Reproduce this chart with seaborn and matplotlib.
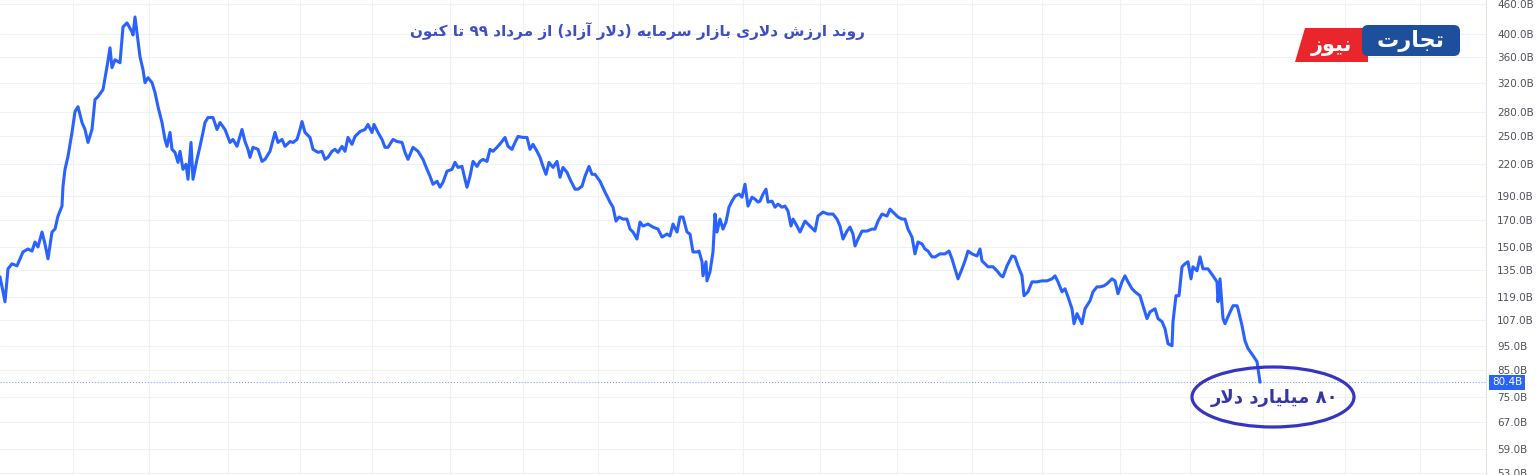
import re
import matplotlib
matplotlib.use('Agg')
import matplotlib.pyplot as plt
from matplotlib.patches import Ellipse, Polygon, FancyBboxPatch
from matplotlib.ticker import NullLocator
import seaborn as sns
import pandas as pd

# ارزش دلاری بازار سرمایه (میلیارد دلار) - شماره جلسه معاملاتی از مرداد ۹۹
sessions_a = [0, 5, 8, 12, 17, 20, 23, 28, 32, 35, 38, 42, 45, 48, 52, 55, 58, 62, 63, 65,
              68, 72, 75, 78, 82, 85, 88, 92, 95, 98, 103, 107, 110, 112, 115, 120, 123, 127, 132, 133,
              135, 137, 140, 143, 145, 148, 152, 155, 158, 162, 165, 167, 170, 172, 175, 178, 180, 183, 186, 188,
              191, 193, 197, 200, 203, 205, 208, 213, 217, 220, 225, 230, 233, 237, 242, 245, 248, 250]
cap_a = [130.7, 116.5, 135.6, 138.8, 137.5, 142.0, 146.6, 148.6, 147.2, 153.5, 150.0, 160.7, 152.1, 142.0, 160.7, 162.9, 173.0, 181.1, 198.5, 214.6,
         227.8, 254.4, 280.1, 286.5, 266.3, 257.9, 242.9, 257.9, 296.0, 300.1, 309.9, 344.5, 375.8, 343.0, 355.7, 350.8, 413.9, 421.6, 404.5, 398.9,
         433.3, 402.7, 360.7, 339.7, 320.0, 327.5, 320.0, 305.8, 286.5, 266.3, 246.3, 238.6, 254.4, 235.3, 232.1, 221.6, 233.2, 214.6, 219.6, 205.0,
         242.9, 205.0, 224.7, 238.6, 254.4, 266.3, 272.5, 272.5, 257.9, 266.3, 257.9, 242.9, 246.3, 238.6, 257.9, 244.0, 235.3, 226.8]

sessions_b = [253, 258, 262, 265, 270, 275, 278, 282, 285, 290, 293, 297, 300, 302, 305, 310, 313, 318, 322, 325,
              328, 332, 335, 338, 342, 345, 348, 352, 355, 360, 365, 368, 372, 374, 378, 382, 385, 388, 393, 397,
              402, 405, 408, 413, 418, 423, 427, 430, 433, 437, 440, 443, 447, 452, 455, 458, 462, 465, 467, 470,
              473, 477, 480, 483, 487, 490, 493, 497, 502, 505, 508]
cap_b = [237.5, 235.3, 222.6, 224.7, 233.2, 254.4, 242.9, 246.3, 238.6, 244.0, 242.9, 246.3, 257.9, 267.5, 254.4, 248.6, 235.3, 232.1, 233.2, 224.7,
         226.8, 233.2, 235.3, 232.1, 238.6, 233.2, 248.6, 240.8, 249.7, 255.5, 257.9, 263.9, 254.4, 263.9, 254.4, 246.3, 237.5, 237.5, 246.3, 244.0,
         242.9, 232.1, 224.7, 237.5, 233.2, 224.7, 214.6, 207.8, 200.3, 203.1, 197.6, 202.2, 212.7, 214.6, 221.6, 216.5, 217.5, 205.0, 197.6, 207.8,
         222.6, 217.5, 222.6, 224.7, 222.6, 235.3, 233.2, 237.5, 244.0, 248.6, 238.6]

sessions_c = [512, 515, 518, 523, 527, 530, 533, 537, 540, 543, 546, 549, 553, 557, 560, 563, 567, 570, 575, 578,
              582, 585, 589, 592, 595, 600, 605, 610, 613, 616, 619, 623, 627, 630, 633, 637, 640, 643, 648, 653,
              658, 662, 667, 670, 673, 677, 680, 683, 687, 690, 693, 697, 699, 702, 703, 706, 707, 710, 713, 715,
              717, 720, 723, 726, 729, 732, 735, 739, 742, 745, 748, 752, 755, 758]
cap_c = [235.3, 242.9, 249.7, 248.6, 248.6, 235.3, 240.8, 233.2, 226.8, 217.5, 209.7, 221.6, 216.5, 222.6, 206.9, 216.5, 211.7, 205.0, 195.8, 195.8,
         198.5, 207.8, 217.5, 209.7, 209.7, 203.1, 193.2, 184.5, 180.2, 169.0, 172.2, 170.6, 170.6, 162.9, 160.7, 155.6, 168.3, 165.2, 166.7, 164.4,
         162.9, 157.0, 159.2, 157.8, 166.7, 160.7, 172.2, 172.2, 160.7, 159.2, 146.6, 146.6, 147.2, 140.1, 131.3, 140.1, 128.3, 133.8, 146.6, 174.6,
         160.7, 170.6, 162.9, 168.3, 180.2, 185.3, 189.6, 191.4, 188.7, 200.3, 181.1, 188.7, 187.0, 184.5]

sessions_d = [760, 763, 766, 768, 772, 775, 778, 782, 785, 788, 791, 793, 797, 800, 805, 810, 815, 818, 823, 828,
              833, 837, 840, 843, 847, 850, 853, 855, 858, 862, 867, 872, 875, 878, 882, 887, 890, 893, 898, 902,
              905, 908, 912, 915, 918, 922, 925, 928, 932, 935, 940, 945, 949, 952, 955, 958, 962, 965, 968, 972,
              977, 980, 982, 985, 988, 993, 997, 1001, 1003]
cap_d = [185.3, 191.4, 195.8, 184.5, 185.3, 180.2, 182.8, 180.2, 181.1, 177.0, 165.2, 170.6, 165.2, 160.7, 169.0, 165.2, 161.4, 173.0, 176.2, 174.6,
         174.6, 170.6, 165.2, 155.6, 161.4, 164.4, 159.2, 150.7, 155.6, 161.4, 161.4, 162.9, 162.9, 169.0, 174.6, 173.0, 178.6, 176.2, 172.2, 170.6,
         170.6, 162.9, 157.0, 145.3, 153.5, 152.1, 148.6, 147.2, 143.3, 143.3, 145.3, 145.3, 147.2, 142.0, 135.6, 129.5, 135.6, 140.7, 147.2, 145.3,
         143.9, 148.6, 140.7, 138.8, 136.9, 136.9, 134.4, 131.3, 130.7]

sessions_e = [1007, 1012, 1015, 1018, 1022, 1024, 1028, 1032, 1037, 1042, 1047, 1052, 1055, 1058, 1062, 1065, 1068, 1072, 1074, 1077,
              1082, 1085, 1090, 1093, 1097, 1100, 1104, 1107, 1112, 1115, 1118, 1122, 1125, 1128, 1132, 1135, 1140, 1143, 1147, 1150,
              1155, 1158, 1162, 1165, 1168, 1172, 1173, 1176, 1179, 1182, 1185, 1188, 1191, 1193, 1197, 1200, 1203, 1208, 1213, 1217,
              1218, 1220, 1223, 1225, 1228, 1233, 1237, 1238, 1242, 1245, 1248, 1253, 1257, 1260]
cap_e = [137.5, 143.9, 143.3, 137.5, 131.3, 119.8, 122.0, 127.7, 127.7, 128.3, 128.3, 129.5, 131.3, 127.7, 122.0, 123.7, 119.2, 112.8, 105.3, 110.3,
         105.3, 112.8, 117.0, 122.0, 124.8, 124.8, 125.4, 126.6, 129.5, 128.3, 120.9, 127.7, 131.3, 127.7, 123.7, 122.0, 119.8, 114.4, 107.8, 111.2,
         112.8, 107.8, 106.3, 102.9, 96.0, 95.1, 106.3, 119.8, 119.8, 136.9, 138.8, 140.1, 129.5, 136.9, 134.4, 143.3, 135.6, 135.6, 131.3, 127.7,
         116.5, 129.5, 107.8, 105.3, 108.8, 114.4, 114.4, 112.8, 104.4, 97.3, 93.9, 90.9, 88.4, 80.4]

last_value = 80.4
month_starts = [73, 149, 228, 300, 372, 450, 523, 598, 673, 743, 820, 897, 972, 1042, 1120, 1190, 1263, 1345, 1420]
y_ticks = [53, 59, 67, 75, 85, 95, 107, 119, 135, 150, 170, 190, 220, 250, 280, 320, 360, 400, 460]

title = 'روند ارزش دلاری بازار سرمایه (دلار آزاد) از مرداد ۹۹ تا کنون'
note = '۸۰ میلیارد دلار'
brand_1 = 'تجارت'
brand_2 = 'نیوز'

# matplotlib does not shape Arabic script: map letters to presentation forms and reverse
FORMS = {
    'ا': ('\uFE8D', '\uFE8E', None, None),
    'آ': ('\uFE81', '\uFE82', None, None),
    'ب': ('\uFE8F', '\uFE90', '\uFE91', '\uFE92'),
    'ت': ('\uFE95', '\uFE96', '\uFE97', '\uFE98'),
    'ج': ('\uFE9D', '\uFE9E', '\uFE9F', '\uFEA0'),
    'د': ('\uFEA9', '\uFEAA', None, None),
    'ر': ('\uFEAD', '\uFEAE', None, None),
    'ز': ('\uFEAF', '\uFEB0', None, None),
    'س': ('\uFEB1', '\uFEB2', '\uFEB3', '\uFEB4'),
    'ش': ('\uFEB5', '\uFEB6', '\uFEB7', '\uFEB8'),
    'ل': ('\uFEDD', '\uFEDE', '\uFEDF', '\uFEE0'),
    'م': ('\uFEE1', '\uFEE2', '\uFEE3', '\uFEE4'),
    'ن': ('\uFEE5', '\uFEE6', '\uFEE7', '\uFEE8'),
    'ه': ('\uFEE9', '\uFEEA', '\uFEEB', '\uFEEC'),
    'و': ('\uFEED', '\uFEEE', None, None),
    'ی': ('\uFBFC', '\uFBFD', '\uFBFE', '\uFBFF'),
    'ک': ('\uFB8E', '\uFB8F', '\uFB90', '\uFB91'),
}
LAM_ALEF = {'ا': ('\uFEFB', '\uFEFC'), 'آ': ('\uFEF5', '\uFEF6')}


def dual(c):
    return c in FORMS and FORMS[c][2] is not None


def fa(text):
    out = []
    i = 0
    while i < len(text):
        c = text[i]
        if c not in FORMS:
            out.append(c)
            i += 1
            continue
        link_prev = i > 0 and dual(text[i - 1])
        nxt = text[i + 1] if i + 1 < len(text) else ''
        if c == 'ل' and nxt in LAM_ALEF:
            out.append(LAM_ALEF[nxt][1 if link_prev else 0])
            i += 2
            continue
        link_next = dual(c) and nxt in FORMS
        iso, fin, ini, med = FORMS[c]
        if link_prev and link_next:
            out.append(med)
        elif link_prev:
            out.append(fin)
        elif link_next:
            out.append(ini)
        else:
            out.append(iso)
        i += 1
    vis = ''.join(out)[::-1]
    vis = re.sub(r'[0-9۰-۹]+', lambda m: m.group(0)[::-1], vis)
    return vis.translate(str.maketrans('()', ')('))


df = pd.DataFrame({
    'session': sessions_a + sessions_b + sessions_c + sessions_d + sessions_e,
    'cap': cap_a + cap_b + cap_c + cap_d + cap_e,
})

sns.set_style('white')
plt.rcParams['font.family'] = ['DejaVu Sans']

W, H = 1536, 475
fig = plt.figure(figsize=(W / 100, H / 100), dpi=100)
ax = fig.add_axes([0, 0, 1486 / W, 1])


def fxy(x, y):
    # pixel position -> figure fraction
    return x / W, 1 - y / H


sns.lineplot(data=df, x='session', y='cap', ax=ax, color='#2962ff', linewidth=2.2,
             estimator=None, sort=False)

ax.set_yscale('log')
ax.set_ylim(52.4, 468.6)
ax.set_xlim(0, 1486)
ax.yaxis.set_minor_locator(NullLocator())
ax.set_yticks(y_ticks)
ax.set_yticklabels([f'{t:.1f}B' for t in y_ticks])
ax.yaxis.tick_right()
ax.tick_params(axis='y', length=0, pad=8, labelsize=7.5, labelcolor='#50535e')
ax.set_xticks(month_starts)
ax.set_xticklabels([])
ax.tick_params(axis='x', length=0)
ax.set_xlabel('')
ax.set_ylabel('')
ax.grid(True, color='#eef1f6', linewidth=0.8)
for side in ['top', 'left', 'bottom']:
    ax.spines[side].set_visible(False)
ax.spines['right'].set_color('#e0e3eb')
ax.spines['right'].set_linewidth(0.8)

# current value line and price tag
ax.axhline(last_value, color='#2962ff', linestyle=':', linewidth=0.8, alpha=0.6, clip_on=False)
ax.annotate(f'{last_value:.1f}B', xy=(1, last_value), xycoords=('axes fraction', 'data'),
            xytext=(6, 0), textcoords='offset pixels', ha='left', va='center',
            fontsize=7.5, color='white',
            bbox=dict(boxstyle='square,pad=0.25', fc='#2962ff', ec='none'))

# title
fig.text(*fxy(637, 31), fa(title), ha='center', va='center', fontsize=11,
         fontweight='bold', color='#3f4fc3')

# logo
red = Polygon([fxy(1305, 28), fxy(1368, 28), fxy(1368, 62), fxy(1295, 62)],
              closed=True, transform=fig.transFigure, fc='#e8262b', ec='none')
blue = FancyBboxPatch(fxy(1362, 56), 98 / W, 31 / H, boxstyle='round,pad=0,rounding_size=0.004',
                      transform=fig.transFigure, fc='#1d4f9c', ec='none', mutation_aspect=W / H)
fig.patches.extend([red, blue])
fig.text(*fxy(1411, 41), fa(brand_1), ha='center', va='center', fontsize=16,
         fontweight='bold', color='white')
fig.text(*fxy(1332, 46), fa(brand_2), ha='center', va='center', fontsize=15,
         fontweight='bold', color='white')

# annotation ellipse
ell = Ellipse(fxy(1273, 397), 162 / W, 60 / H, transform=fig.transFigure,
              fill=False, ec='#3535c0', lw=2.3)
fig.patches.append(ell)
fig.text(*fxy(1275, 398), fa(note), ha='center', va='center', fontsize=13,
         fontweight='bold', color='#3535a8')

fig.savefig('out.png', dpi=100)
